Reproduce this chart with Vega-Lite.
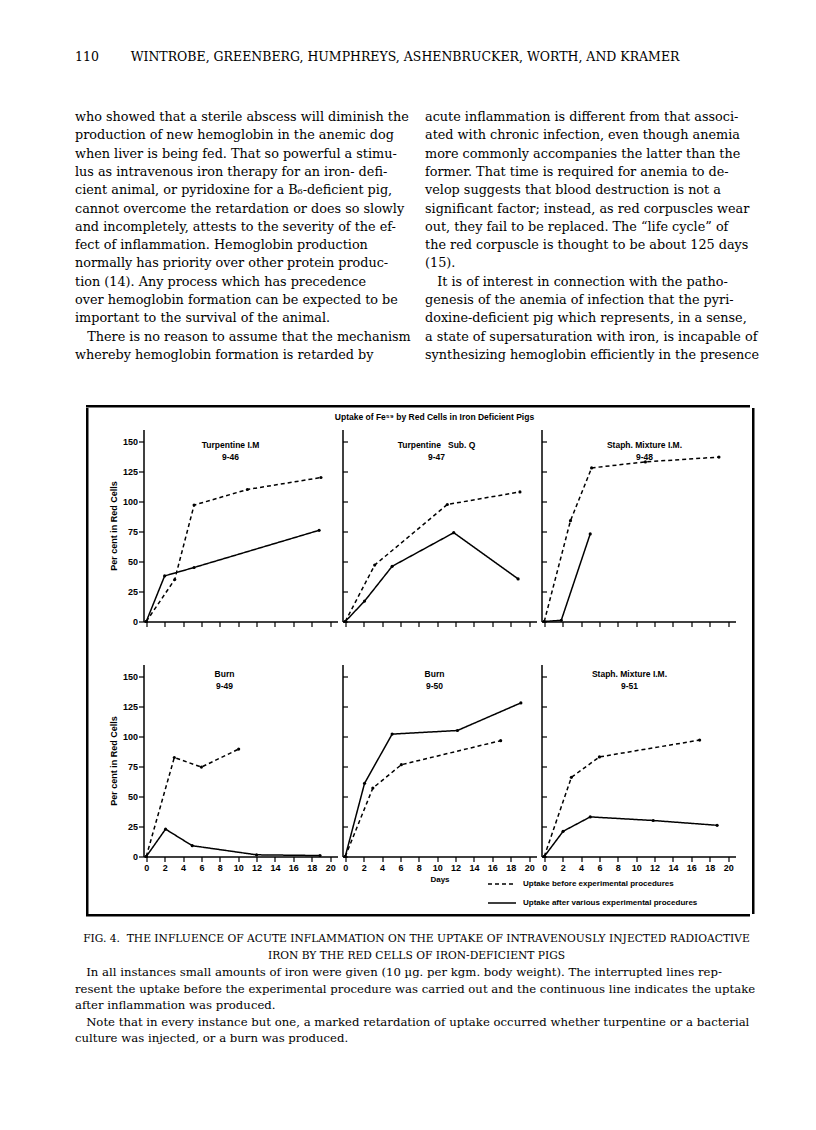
{
  "$schema": "https://vega.github.io/schema/vega-lite/v6.json",
  "background": "white",
  "padding": {"left": 75, "top": 50, "right": 5, "bottom": 5},
  "config": {
    "view": {"stroke": null},
    "font": "Liberation Sans",
    "axis": {
      "grid": false, "domainColor": "black", "domainWidth": 1.5, "tickColor": "black", "tickWidth": 1.2,
      "labelColor": "black", "labelFont": "Liberation Sans", "labelFontWeight": "bold", "labelFontSize": 9,
      "titleColor": "black", "titleFont": "Liberation Sans", "titleFontWeight": "bold", "titleFontSize": 9,
      "labelOverlap": false, "labelFlush": false
    },
    "title": {"color": "black", "font": "Liberation Sans", "fontWeight": "bold", "fontSize": 8.5},
    "legend": {
      "orient": "none", "legendX": 412, "legendY": 761, "title": null, "symbolType": "stroke", "symbolSize": 784,
      "symbolStrokeWidth": 1.5, "symbolStrokeColor": "black", "labelFont": "Liberation Sans", "labelFontWeight": "bold",
      "labelFontSize": 8, "labelColor": "black", "labelLimit": 400, "rowPadding": -3, "labelOffset": 6, "direction": "vertical"
    }
  },
  "datasets": {
    "pts": [
      {"panel": "9-46", "series": "before", "day": 0, "pct": 0},
      {"panel": "9-46", "series": "before", "day": 3.1, "pct": 35},
      {"panel": "9-46", "series": "before", "day": 5.2, "pct": 97},
      {"panel": "9-46", "series": "before", "day": 11, "pct": 110},
      {"panel": "9-46", "series": "before", "day": 19, "pct": 120},
      {"panel": "9-46", "series": "after", "day": 0, "pct": 0},
      {"panel": "9-46", "series": "after", "day": 2, "pct": 38},
      {"panel": "9-46", "series": "after", "day": 5.2, "pct": 45},
      {"panel": "9-46", "series": "after", "day": 18.8, "pct": 76},
      {"panel": "9-47", "series": "before", "day": 0, "pct": 0},
      {"panel": "9-47", "series": "before", "day": 3.2, "pct": 47},
      {"panel": "9-47", "series": "before", "day": 11.1, "pct": 97.5},
      {"panel": "9-47", "series": "before", "day": 19, "pct": 108},
      {"panel": "9-47", "series": "after", "day": 0, "pct": 0},
      {"panel": "9-47", "series": "after", "day": 2.1, "pct": 17},
      {"panel": "9-47", "series": "after", "day": 5.1, "pct": 46},
      {"panel": "9-47", "series": "after", "day": 11.8, "pct": 74},
      {"panel": "9-47", "series": "after", "day": 18.8, "pct": 35.5},
      {"panel": "9-48", "series": "before", "day": 0, "pct": 0},
      {"panel": "9-48", "series": "before", "day": 2.85, "pct": 84},
      {"panel": "9-48", "series": "before", "day": 5.15, "pct": 128},
      {"panel": "9-48", "series": "before", "day": 11, "pct": 133},
      {"panel": "9-48", "series": "before", "day": 19, "pct": 137},
      {"panel": "9-48", "series": "after", "day": 0, "pct": 0},
      {"panel": "9-48", "series": "after", "day": 1.85, "pct": 1},
      {"panel": "9-48", "series": "after", "day": 5, "pct": 73},
      {"panel": "9-49", "series": "before", "day": 0, "pct": 0},
      {"panel": "9-49", "series": "before", "day": 3.05, "pct": 82.5},
      {"panel": "9-49", "series": "before", "day": 6, "pct": 74.5},
      {"panel": "9-49", "series": "before", "day": 10.05, "pct": 89.5},
      {"panel": "9-49", "series": "after", "day": 0, "pct": 0},
      {"panel": "9-49", "series": "after", "day": 2.1, "pct": 22.8},
      {"panel": "9-49", "series": "after", "day": 5, "pct": 9},
      {"panel": "9-49", "series": "after", "day": 12, "pct": 1.4},
      {"panel": "9-49", "series": "after", "day": 18.9, "pct": 0.8},
      {"panel": "9-50", "series": "before", "day": 0, "pct": 0},
      {"panel": "9-50", "series": "before", "day": 3, "pct": 57},
      {"panel": "9-50", "series": "before", "day": 6.1, "pct": 76.5},
      {"panel": "9-50", "series": "before", "day": 16.9, "pct": 96.5},
      {"panel": "9-50", "series": "after", "day": 0, "pct": 0},
      {"panel": "9-50", "series": "after", "day": 2.1, "pct": 61},
      {"panel": "9-50", "series": "after", "day": 5.1, "pct": 102},
      {"panel": "9-50", "series": "after", "day": 12.2, "pct": 105},
      {"panel": "9-50", "series": "after", "day": 19.1, "pct": 128},
      {"panel": "9-51", "series": "before", "day": 0, "pct": 0},
      {"panel": "9-51", "series": "before", "day": 2.95, "pct": 66},
      {"panel": "9-51", "series": "before", "day": 6, "pct": 83},
      {"panel": "9-51", "series": "before", "day": 16.9, "pct": 97},
      {"panel": "9-51", "series": "after", "day": 0, "pct": 0},
      {"panel": "9-51", "series": "after", "day": 2.05, "pct": 21},
      {"panel": "9-51", "series": "after", "day": 5, "pct": 33},
      {"panel": "9-51", "series": "after", "day": 11.85, "pct": 30},
      {"panel": "9-51", "series": "after", "day": 18.8, "pct": 26}
    ],
    "page": [
      {"col": "L", "line": 1, "text": "who showed that a sterile abscess will diminish the"},
      {"col": "L", "line": 2, "text": "production of new hemoglobin in the anemic dog"},
      {"col": "L", "line": 3, "text": "when liver is being fed. That so powerful a stimu-"},
      {"col": "L", "line": 4, "text": "lus as intravenous iron therapy for an iron- defi-"},
      {"col": "L", "line": 5, "text": "cient animal, or pyridoxine for a B₆-deficient pig,"},
      {"col": "L", "line": 6, "text": "cannot overcome the retardation or does so slowly"},
      {"col": "L", "line": 7, "text": "and incompletely, attests to the severity of the ef-"},
      {"col": "L", "line": 8, "text": "fect of inflammation.  Hemoglobin production"},
      {"col": "L", "line": 9, "text": "normally has priority over other protein produc-"},
      {"col": "L", "line": 10, "text": "tion (14).  Any process which has precedence"},
      {"col": "L", "line": 11, "text": "over hemoglobin formation can be expected to be"},
      {"col": "L", "line": 12, "text": "important to the survival of the animal."},
      {"col": "L", "line": 13, "text": "\u200b\u00a0\u00a0\u00a0There is no reason to assume that the mechanism"},
      {"col": "L", "line": 14, "text": "whereby hemoglobin formation is retarded by"},
      {"col": "R", "line": 1, "text": "acute inflammation is different from that associ-"},
      {"col": "R", "line": 2, "text": "ated with chronic infection, even though anemia"},
      {"col": "R", "line": 3, "text": "more commonly accompanies the latter than the"},
      {"col": "R", "line": 4, "text": "former.  That time is required for anemia to de-"},
      {"col": "R", "line": 5, "text": "velop suggests that blood destruction is not a"},
      {"col": "R", "line": 6, "text": "significant factor; instead, as red corpuscles wear"},
      {"col": "R", "line": 7, "text": "out, they fail to be replaced.  The “life cycle” of"},
      {"col": "R", "line": 8, "text": "the red corpuscle is thought to be about 125 days"},
      {"col": "R", "line": 9, "text": "(15)."},
      {"col": "R", "line": 10, "text": "\u200b\u00a0\u00a0\u00a0It is of interest in connection with the patho-"},
      {"col": "R", "line": 11, "text": "genesis of the anemia of infection that the pyri-"},
      {"col": "R", "line": 12, "text": "doxine-deficient pig which represents, in a sense,"},
      {"col": "R", "line": 13, "text": "a state of supersaturation with iron, is incapable of"},
      {"col": "R", "line": 14, "text": "synthesizing hemoglobin efficiently in the presence"}
    ],
    "caption": [
      {"col": "C", "line": 1, "kind": "head", "text": "FIG. 4.\u00a0\u00a0THE INFLUENCE OF ACUTE INFLAMMATION ON THE UPTAKE OF INTRAVENOUSLY INJECTED RADIOACTIVE"},
      {"col": "C", "line": 2, "kind": "head", "text": "IRON BY THE RED CELLS OF IRON-DEFICIENT PIGS"},
      {"col": "C", "line": 3, "kind": "para", "text": "\u200b\u00a0\u00a0\u00a0In all instances small amounts of iron were given (10 µg. per kgm. body weight).  The interrupted lines rep-"},
      {"col": "C", "line": 4, "kind": "para", "text": "resent the uptake before the experimental procedure was carried out and the continuous line indicates the uptake"},
      {"col": "C", "line": 5, "kind": "para", "text": "after inflammation was produced."},
      {"col": "C", "line": 6, "kind": "para", "text": "\u200b\u00a0\u00a0\u00a0Note that in every instance but one, a marked retardation of uptake occurred whether turpentine or a bacterial"},
      {"col": "C", "line": 7, "kind": "para", "text": "culture was injected, or a burn was produced."}
    ]
  },
  "spacing": 14,
  "vconcat": [
    {
      "spacing": 41,
      "vconcat": [
        {
          "width": 683, "height": 256,
          "title": {"text": "110\u00a0\u00a0\u00a0\u00a0\u00a0\u00a0\u00a0\u00a0WINTROBE, GREENBERG, HUMPHREYS, ASHENBRUCKER, WORTH, AND KRAMER", "anchor": "start", "frame": "group", "font": "DejaVu Serif", "fontSize": 12.5, "fontWeight": "normal", "baseline": "alphabetic", "offset": 35},
          "data": {"name": "page"},
          "mark": {"type": "text", "align": "left", "baseline": "middle", "font": "DejaVu Serif", "fontSize": 12.8, "color": "black"},
          "encoding": {
            "x": {"field": "col", "type": "nominal", "bandPosition": 0, "scale": {"type": "band", "domain": ["L", "R"], "paddingInner": 0.0486, "paddingOuter": 0}, "axis": null},
            "y": {"field": "line", "type": "ordinal", "scale": {"type": "band", "domain": [1,2,3,4,5,6,7,8,9,10,11,12,13,14], "paddingInner": 0, "paddingOuter": 0}, "axis": null},
            "text": {"field": "text"}
          }
        },
        {
          "spacing": 10,
          "hconcat": [
            {"width": 1, "height": 1, "data": {"values": []}, "mark": "point"},
            {
              "spacing": 0,
              "vconcat": [
                {"width": 664, "height": 2.5, "view": {"fill": "black", "stroke": null}, "data": {"values": []}, "mark": "point"},
                {
                  "spacing": 19.5,
                  "hconcat": [
                    {"width": 2.5, "height": 506, "view": {"fill": "black", "stroke": null}, "data": {"values": []}, "mark": "point"},
                    {
                      "spacing": 16.5,
                      "hconcat": [
                        {
                          "spacing": 3.5,
                          "vconcat": [
                            {"width": 1, "height": 1, "data": {"values": []}, "mark": "point"},
                            {
                              "title": {"text": "Uptake of Fe⁵⁹ by Red Cells in Iron Deficient Pigs", "anchor": "middle", "offset": 8, "dx": 12, "fontSize": 8.5},
                              "spacing": 37,
                              "vconcat": [
                                {
                                  "spacing": 4,
                                  "hconcat": [
                                    {
                                      "width": 194, "height": 192,
                                      "title": {"text": ["Turpentine I.M", "9-46"], "frame": "group", "anchor": "middle", "baseline": "top", "offset": -31.5, "dx": -10, "lineHeight": 12},
                                      "data": {"name": "pts"},
                                      "transform": [{"filter": "datum.panel == '9-46'"}],
                                      "encoding": {
                                        "x": {"field": "day", "type": "quantitative", "scale": {"domain": [-0.3, 20.8], "nice": false, "zero": false}, "axis": {"values": [0,2,4,6,8,10,12,14,16,18,20], "labels": false, "title": null, "tickSize": 5}},
                                        "y": {"field": "pct", "type": "quantitative", "scale": {"domain": [0, 160], "nice": false}, "axis": {"values": [0,25,50,75,100,125,150], "title": "Per cent in Red Cells", "tickSize": 5, "labelPadding": 1, "titlePadding": 4}}
                                      },
                                      "layer": [
                                        {"mark": {"type": "line", "color": "black", "strokeWidth": 1.5}, "encoding": {"strokeDash": {"field": "series", "type": "nominal", "scale": {"domain": ["before", "after"], "range": [[4, 3], [1, 0]]}, "legend": {"labelExpr": "datum.value == 'before' ? 'Uptake before experimental procedures' : 'Uptake after various experimental procedures'"}}}},
                                        {"mark": {"type": "point", "filled": true, "color": "black", "size": 10, "opacity": 1}}
                                      ]
                                    },
                                    {
                                      "width": 194, "height": 192,
                                      "title": {"text": ["Turpentine\u00a0\u00a0\u00a0Sub. Q", "9-47"], "frame": "group", "anchor": "middle", "baseline": "top", "offset": -31.5, "dx": -3, "lineHeight": 12},
                                      "data": {"name": "pts"},
                                      "transform": [{"filter": "datum.panel == '9-47'"}],
                                      "encoding": {
                                        "x": {"field": "day", "type": "quantitative", "scale": {"domain": [-0.3, 20.8], "nice": false, "zero": false}, "axis": {"values": [0,2,4,6,8,10,12,14,16,18,20], "labels": false, "title": null, "tickSize": 5}},
                                        "y": {"field": "pct", "type": "quantitative", "scale": {"domain": [0, 160], "nice": false}, "axis": {"values": [0,25,50,75,100,125,150], "title": null, "labels": false, "tickSize": -5}}
                                      },
                                      "layer": [
                                        {"mark": {"type": "line", "color": "black", "strokeWidth": 1.5}, "encoding": {"strokeDash": {"field": "series", "type": "nominal", "scale": {"domain": ["before", "after"], "range": [[4, 3], [1, 0]]}, "legend": {"labelExpr": "datum.value == 'before' ? 'Uptake before experimental procedures' : 'Uptake after various experimental procedures'"}}}},
                                        {"mark": {"type": "point", "filled": true, "color": "black", "size": 10, "opacity": 1}}
                                      ]
                                    },
                                    {
                                      "width": 194, "height": 192,
                                      "title": {"text": ["Staph. Mixture I.M.", "9-48"], "frame": "group", "anchor": "middle", "baseline": "top", "offset": -31.5, "dx": 6, "lineHeight": 12},
                                      "data": {"name": "pts"},
                                      "transform": [{"filter": "datum.panel == '9-48'"}],
                                      "encoding": {
                                        "x": {"field": "day", "type": "quantitative", "scale": {"domain": [-0.3, 20.8], "nice": false, "zero": false}, "axis": {"values": [0,2,4,6,8,10,12,14,16,18,20], "labels": false, "title": null, "tickSize": 5}},
                                        "y": {"field": "pct", "type": "quantitative", "scale": {"domain": [0, 160], "nice": false}, "axis": {"values": [0,25,50,75,100,125,150], "title": null, "labels": false, "tickSize": -5}}
                                      },
                                      "layer": [
                                        {"mark": {"type": "line", "color": "black", "strokeWidth": 1.5}, "encoding": {"strokeDash": {"field": "series", "type": "nominal", "scale": {"domain": ["before", "after"], "range": [[4, 3], [1, 0]]}, "legend": {"labelExpr": "datum.value == 'before' ? 'Uptake before experimental procedures' : 'Uptake after various experimental procedures'"}}}},
                                        {"mark": {"type": "point", "filled": true, "color": "black", "size": 10, "opacity": 1}}
                                      ]
                                    }
                                  ]
                                },
                                {
                                  "spacing": 4,
                                  "hconcat": [
                                    {
                                      "width": 194, "height": 192,
                                      "title": {"text": ["Burn", "9-49"], "frame": "group", "anchor": "middle", "baseline": "top", "offset": -25.5, "dx": -16, "lineHeight": 12},
                                      "data": {"name": "pts"},
                                      "transform": [{"filter": "datum.panel == '9-49'"}],
                                      "encoding": {
                                        "x": {"field": "day", "type": "quantitative", "scale": {"domain": [-0.3, 20.8], "nice": false, "zero": false}, "axis": {"values": [0,2,4,6,8,10,12,14,16,18,20], "title": null, "tickSize": 5, "labelPadding": 2}},
                                        "y": {"field": "pct", "type": "quantitative", "scale": {"domain": [0, 160], "nice": false}, "axis": {"values": [0,25,50,75,100,125,150], "title": "Per cent in Red Cells", "tickSize": 5, "labelPadding": 1, "titlePadding": 4}}
                                      },
                                      "layer": [
                                        {"mark": {"type": "line", "color": "black", "strokeWidth": 1.5}, "encoding": {"strokeDash": {"field": "series", "type": "nominal", "scale": {"domain": ["before", "after"], "range": [[4, 3], [1, 0]]}, "legend": {"labelExpr": "datum.value == 'before' ? 'Uptake before experimental procedures' : 'Uptake after various experimental procedures'"}}}},
                                        {"mark": {"type": "point", "filled": true, "color": "black", "size": 10, "opacity": 1}}
                                      ]
                                    },
                                    {
                                      "width": 194, "height": 192,
                                      "title": {"text": ["Burn", "9-50"], "frame": "group", "anchor": "middle", "baseline": "top", "offset": -25.5, "dx": -5, "lineHeight": 12},
                                      "data": {"name": "pts"},
                                      "transform": [{"filter": "datum.panel == '9-50'"}],
                                      "encoding": {
                                        "x": {"field": "day", "type": "quantitative", "scale": {"domain": [-0.3, 20.8], "nice": false, "zero": false}, "axis": {"values": [0,2,4,6,8,10,12,14,16,18,20], "title": "Days", "titleFontSize": 8, "titlePadding": 3, "tickSize": 5, "labelPadding": 2}},
                                        "y": {"field": "pct", "type": "quantitative", "scale": {"domain": [0, 160], "nice": false}, "axis": {"values": [0,25,50,75,100,125,150], "title": null, "labels": false, "tickSize": -5}}
                                      },
                                      "layer": [
                                        {"mark": {"type": "line", "color": "black", "strokeWidth": 1.5}, "encoding": {"strokeDash": {"field": "series", "type": "nominal", "scale": {"domain": ["before", "after"], "range": [[4, 3], [1, 0]]}, "legend": {"labelExpr": "datum.value == 'before' ? 'Uptake before experimental procedures' : 'Uptake after various experimental procedures'"}}}},
                                        {"mark": {"type": "point", "filled": true, "color": "black", "size": 10, "opacity": 1}}
                                      ]
                                    },
                                    {
                                      "width": 194, "height": 192,
                                      "title": {"text": ["Staph. Mixture I.M.", "9-51"], "frame": "group", "anchor": "middle", "baseline": "top", "offset": -25.5, "dx": -9, "lineHeight": 12},
                                      "data": {"name": "pts"},
                                      "transform": [{"filter": "datum.panel == '9-51'"}],
                                      "encoding": {
                                        "x": {"field": "day", "type": "quantitative", "scale": {"domain": [-0.3, 20.8], "nice": false, "zero": false}, "axis": {"values": [0,2,4,6,8,10,12,14,16,18,20], "title": null, "tickSize": 5, "labelPadding": 2}},
                                        "y": {"field": "pct", "type": "quantitative", "scale": {"domain": [0, 160], "nice": false}, "axis": {"values": [0,25,50,75,100,125,150], "title": null, "labels": false, "tickSize": -5}}
                                      },
                                      "layer": [
                                        {"mark": {"type": "line", "color": "black", "strokeWidth": 1.5}, "encoding": {"strokeDash": {"field": "series", "type": "nominal", "scale": {"domain": ["before", "after"], "range": [[4, 3], [1, 0]]}, "legend": {"labelExpr": "datum.value == 'before' ? 'Uptake before experimental procedures' : 'Uptake after various experimental procedures'"}}}},
                                        {"mark": {"type": "point", "filled": true, "color": "black", "size": 10, "opacity": 1}}
                                      ]
                                    }
                                  ]
                                }
                              ]
                            }
                          ]
                        },
                        {"width": 2.5, "height": 506, "view": {"fill": "black", "stroke": null}, "data": {"values": []}, "mark": "point"}
                      ]
                    }
                  ]
                },
                {"width": 664, "height": 2.5, "view": {"fill": "black", "stroke": null}, "data": {"values": []}, "mark": "point"}
              ]
            }
          ]
        }
      ]
    },
    {
      "width": 683, "height": 115.5,
      "data": {"name": "caption"},
      "encoding": {
        "y": {"field": "line", "type": "ordinal", "scale": {"type": "band", "domain": [1,2,3,4,5,6,7], "paddingInner": 0, "paddingOuter": 0}, "axis": null},
        "text": {"field": "text"}
      },
      "layer": [
        {
          "transform": [{"filter": "datum.kind == 'head'"}],
          "mark": {"type": "text", "align": "center", "baseline": "middle", "font": "DejaVu Serif", "fontSize": 10.7, "color": "black"},
          "encoding": {"x": {"field": "col", "type": "nominal", "bandPosition": 0.5, "scale": {"type": "band", "domain": ["C"], "paddingInner": 0, "paddingOuter": 0}, "axis": null}}
        },
        {
          "transform": [{"filter": "datum.kind == 'para'"}],
          "mark": {"type": "text", "align": "left", "baseline": "middle", "font": "DejaVu Serif", "fontSize": 11.7, "color": "black"},
          "encoding": {"x": {"field": "col", "type": "nominal", "bandPosition": 0, "scale": {"type": "band", "domain": ["C"], "paddingInner": 0, "paddingOuter": 0}, "axis": null}}
        }
      ]
    }
  ]
}
